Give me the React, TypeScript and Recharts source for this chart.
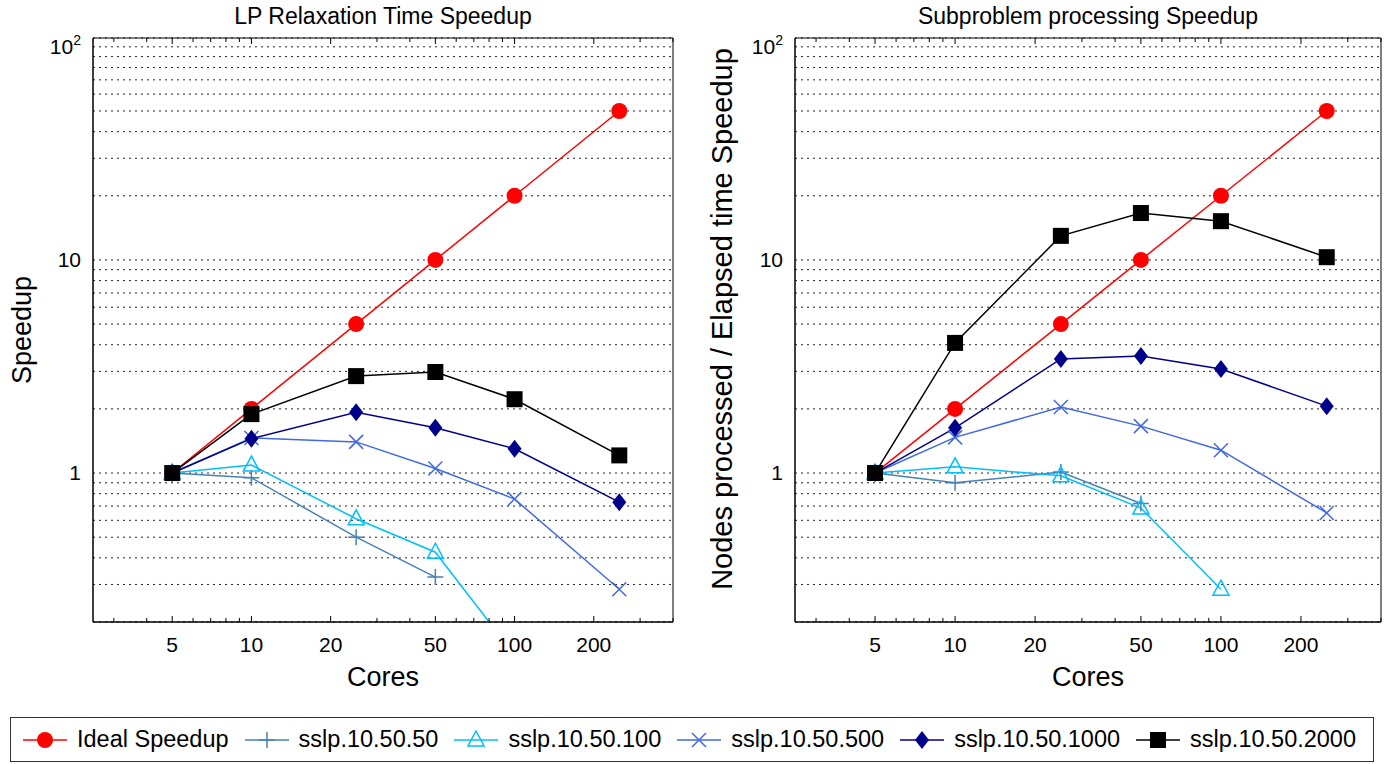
import React from "react";
import {
  LineChart,
  Line,
  XAxis,
  YAxis,
  CartesianGrid,
  ReferenceArea,
  Legend,
} from "recharts";

const FONT = '"Liberation Sans", Arial, Helvetica, sans-serif';

const cores = [5, 10, 25, 50, 100, 250];
const idealSpeedup = [1, 2, 5, 10, 20, 50];

// LP relaxation time speedup
const lp50 = [1, 0.95, 0.5, 0.325, null, null];
const lp100 = [1, 1.09, 0.61, 0.425, 0.14, null];
const lp500 = [1, 1.46, 1.4, 1.05, 0.755, 0.285];
const lp1000 = [1, 1.45, 1.93, 1.63, 1.3, 0.73];
const lp2000 = [1, 1.89, 2.85, 2.98, 2.22, 1.21];

// subproblem processing speedup
const sp50 = [1, 0.9, 1.01, 0.72, null, null];
const sp100 = [1, 1.07, 0.97, 0.685, 0.285, null];
const sp500 = [1, 1.47, 2.04, 1.66, 1.28, 0.65];
const sp1000 = [1, 1.63, 3.43, 3.54, 3.08, 2.06];
const sp2000 = [1, 4.08, 12.97, 16.6, 15.2, 10.3];

const seriesKeys = ["ideal", "s50", "s100", "s500", "s1000", "s2000"];
const seriesNames = [
  "Ideal Speedup",
  "sslp.10.50.50",
  "sslp.10.50.100",
  "sslp.10.50.500",
  "sslp.10.50.1000",
  "sslp.10.50.2000",
];
const seriesColors = ["#ff0000", "#4682b4", "#00bfff", "#4169e1", "#00008b", "#000000"];
const seriesMarkers = ["circle", "plus", "triangle", "cross", "diamond", "square"];

const xTicks = [3, 4, 5, 6, 7, 8, 9, 10, 20, 30, 40, 50, 60, 70, 80, 90, 100, 200, 300, 400];
const xLabels = [5, 10, 20, 50, 100, 200];
const yTicks = [
  0.3, 0.4, 0.5, 0.6, 0.7, 0.8, 0.9, 1, 2, 3, 4, 5, 6, 7, 8, 9, 10, 20, 30, 40, 50, 60, 70,
  80, 90, 100,
];
const xDomain = [2.5, 400];
const yDomain = [0.2, 110];

function buildRows(series: (number | null)[][]) {
  return cores.map((c, i) => {
    const row: any = { cores: c };
    seriesKeys.forEach((k, j) => {
      row[k] = series[j][i];
    });
    return row;
  });
}

const lpData = buildRows([idealSpeedup, lp50, lp100, lp500, lp1000, lp2000]);
const spData = buildRows([idealSpeedup, sp50, sp100, sp500, sp1000, sp2000]);

function Marker({ kind, cx, cy, color }: any) {
  switch (kind) {
    case "circle":
      return <circle cx={cx} cy={cy} r={8} fill={color} />;
    case "plus":
      return (
        <path
          d={`M${cx - 8},${cy}H${cx + 8}M${cx},${cy - 8}V${cy + 8}`}
          stroke={color}
          strokeWidth={1.5}
          fill="none"
        />
      );
    case "triangle":
      return (
        <path
          d={`M${cx},${cy - 9}L${cx + 8},${cy + 6}L${cx - 8},${cy + 6}Z`}
          stroke={color}
          strokeWidth={1.5}
          fill="none"
        />
      );
    case "cross":
      return (
        <path
          d={`M${cx - 7},${cy - 7}L${cx + 7},${cy + 7}M${cx - 7},${cy + 7}L${cx + 7},${cy - 7}`}
          stroke={color}
          strokeWidth={1.5}
          fill="none"
        />
      );
    case "diamond":
      return (
        <path d={`M${cx},${cy - 9}L${cx + 7},${cy}L${cx},${cy + 9}L${cx - 7},${cy}Z`} fill={color} />
      );
    default:
      return <rect x={cx - 8} y={cy - 8} width={16} height={16} fill={color} />;
  }
}

function renderLegend(props: any) {
  const payload = [...(props.payload || [])].sort(
    (a: any, b: any) => seriesKeys.indexOf(a.dataKey) - seriesKeys.indexOf(b.dataKey)
  );
  return (
    <div
      style={{
        boxSizing: "border-box",
        width: 1364,
        height: 45,
        border: "1px solid #333",
        background: "#fff",
        display: "flex",
        alignItems: "center",
        paddingLeft: 12,
        gap: 16,
        fontFamily: FONT,
        fontSize: 23.5,
        color: "#000",
      }}
    >
      {payload.map((entry: any) => {
        const idx = seriesKeys.indexOf(entry.dataKey);
        return (
          <div key={entry.dataKey} style={{ display: "flex", alignItems: "center" }}>
            <svg width={44} height={22}>
              <line x1={0} y1={11} x2={44} y2={11} stroke={entry.color} strokeWidth={1.5} />
              <Marker kind={seriesMarkers[idx]} cx={22} cy={11} color={entry.color} />
            </svg>
            <span style={{ marginLeft: 10 }}>{entry.value}</span>
          </div>
        );
      })}
    </div>
  );
}

const PLOT_TOP = 38;
const PLOT_BOTTOM = 622;
const HEIGHT = 764;

function SpeedupChart({
  title,
  yLabel,
  yLabelSize,
  data,
  left,
  width,
  plotLeft,
  plotRight,
  yLabelX,
  yLabelY,
  withLegend,
}: any) {
  const XTick = (p: any) => {
    const { x, y, payload } = p;
    const major = xLabels.includes(payload.value);
    const len = major ? 6 : 4;
    return (
      <g>
        <line x1={x} y1={y} x2={x} y2={y - len} stroke="#000" />
        <line x1={x} y1={PLOT_TOP} x2={x} y2={PLOT_TOP + len} stroke="#000" />
        {major && (
          <text x={x} y={y + 30} textAnchor="middle" fontSize={21} fontFamily={FONT} fill="#000">
            {payload.value}
          </text>
        )}
      </g>
    );
  };

  const YTick = (p: any) => {
    const { x, y, payload } = p;
    const v = payload.value;
    if (v !== 1 && v !== 10 && v !== 100) return <g />;
    return (
      <text x={x - 12} y={y + 7} textAnchor="end" fontSize={21} fontFamily={FONT} fill="#000">
        {v === 100 ? (
          <>
            10
            <tspan dy={-9} fontSize={14}>
              2
            </tspan>
          </>
        ) : (
          v
        )}
      </text>
    );
  };

  const plotCenter = (plotLeft + plotRight) / 2;

  return (
    <div style={{ position: "absolute", left, top: 0 }}>
      <LineChart
        width={width}
        height={HEIGHT}
        data={data}
        margin={{ top: PLOT_TOP, right: width - plotRight, left: 0, bottom: 0 }}
      >
        <CartesianGrid vertical={false} stroke="#222" strokeDasharray="2 4" />
        <XAxis
          dataKey="cores"
          type="number"
          scale="log"
          domain={xDomain}
          allowDataOverflow
          ticks={xTicks}
          interval={0}
          tickSize={0}
          tickMargin={0}
          tickLine={false}
          tick={XTick}
          height={HEIGHT - PLOT_BOTTOM}
          axisLine={{ stroke: "#000" }}
          label={() => (
            <text
              x={plotCenter}
              y={PLOT_BOTTOM + 64}
              textAnchor="middle"
              fontSize={27}
              fontFamily={FONT}
              fill="#000"
            >
              Cores
            </text>
          )}
        />
        <YAxis
          type="number"
          scale="log"
          domain={yDomain}
          allowDataOverflow
          ticks={yTicks}
          interval={0}
          tickSize={0}
          tickMargin={0}
          tickLine={false}
          tick={YTick}
          width={plotLeft}
          axisLine={{ stroke: "#000" }}
          label={() => (
            <text
              x={yLabelX}
              y={yLabelY}
              transform={`rotate(-90 ${yLabelX} ${yLabelY})`}
              textAnchor="middle"
              dominantBaseline="central"
              fontSize={yLabelSize}
              fontFamily={FONT}
              fill="#000"
            >
              {yLabel}
            </text>
          )}
        />
        <ReferenceArea
          x1={xDomain[0]}
          x2={xDomain[1]}
          y1={yDomain[0]}
          y2={yDomain[1]}
          fill="none"
          stroke="#000"
          strokeOpacity={1}
          label={{
            value: title,
            position: "top",
            offset: 14,
            fontSize: 23,
            fontFamily: FONT,
            fill: "#000",
          }}
        />
        {seriesKeys.map((k, i) => (
          <Line
            key={k}
            type="linear"
            dataKey={k}
            name={seriesNames[i]}
            stroke={seriesColors[i]}
            strokeWidth={1.5}
            isAnimationActive={false}
            activeDot={false}
            dot={(p: any) => {
              if (p.value == null || p.cy == null) return <g key={`${k}-${p.index}`} />;
              return (
                <Marker
                  key={`${k}-${p.index}`}
                  kind={seriesMarkers[i]}
                  cx={p.cx}
                  cy={p.cy}
                  color={seriesColors[i]}
                />
              );
            }}
          />
        ))}
        {withLegend && (
          <Legend
            layout="horizontal"
            verticalAlign="middle"
            align="center"
            wrapperStyle={{ left: 10, top: 717, width: 1364, height: 45 }}
            content={renderLegend}
          />
        )}
      </LineChart>
    </div>
  );
}

export default function App() {
  return (
    <div
      style={{
        position: "absolute",
        left: 0,
        top: 0,
        width: 1385,
        height: 764,
        background: "#fff",
        fontFamily: FONT,
      }}
    >
      <SpeedupChart
        title="LP Relaxation Time Speedup"
        yLabel="Speedup"
        yLabelSize={27}
        data={lpData}
        left={0}
        width={690}
        plotLeft={93}
        plotRight={673}
        yLabelX={22}
        yLabelY={330}
        withLegend
      />
      <SpeedupChart
        title="Subproblem processing Speedup"
        yLabel="Nodes processed / Elapsed time Speedup"
        yLabelSize={29}
        data={spData}
        left={690}
        width={695}
        plotLeft={105}
        plotRight={691}
        yLabelX={32}
        yLabelY={319}
        withLegend={false}
      />
    </div>
  );
}
